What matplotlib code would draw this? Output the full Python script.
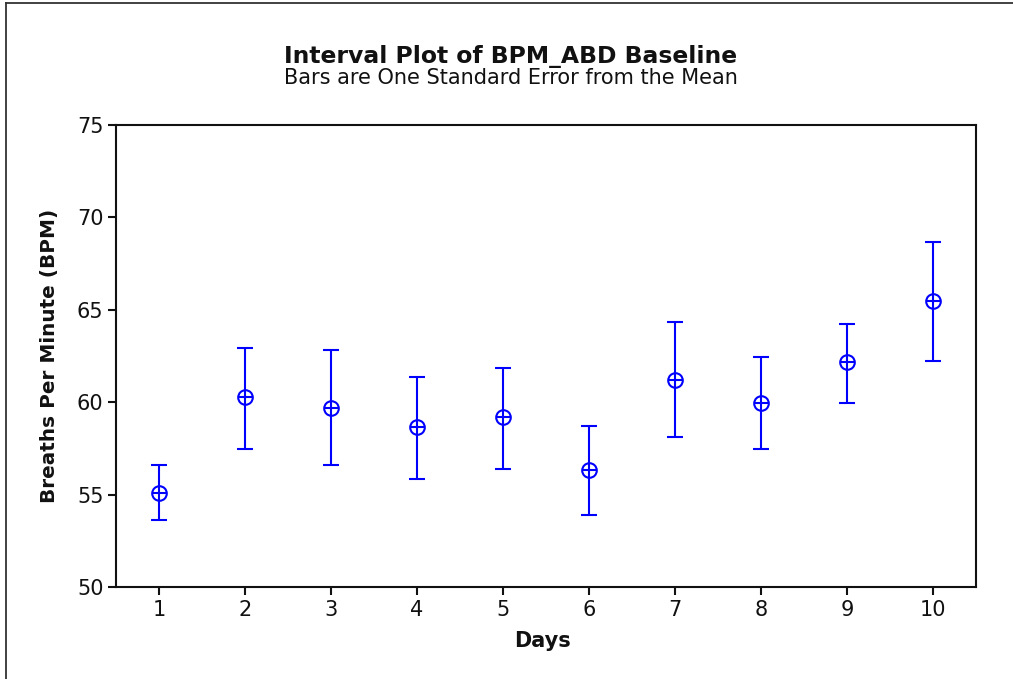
import matplotlib
matplotlib.use("Agg")
import matplotlib.pyplot as plt
import numpy as np
from matplotlib.lines import Line2D

days = [1, 2, 3, 4, 5, 6, 7, 8, 9, 10]
means = [55.10, 60.27, 59.67, 58.65, 59.22, 56.33, 61.21, 59.98, 62.18, 65.45]
upper = [56.59, 62.92, 62.83, 61.39, 61.87, 58.70, 64.36, 62.43, 64.24, 68.66]
lower = [53.63, 57.46, 56.59, 55.83, 56.41, 53.90, 58.12, 57.46, 59.95, 62.25]
yticks = [50, 55, 60, 65, 70, 75]

title = "Interval Plot of BPM_ABD Baseline"
subtitle = "Bars are One Standard Error from the Mean"
xlabel = "Days"
ylabel = "Breaths Per Minute (BPM)"

plt.rcParams['font.family'] = ['DejaVu Sans']

W, H = 1013, 679
fig = plt.figure(figsize=(W / 100, H / 100), dpi=100)
ax = fig.add_axes([116 / W, 1 - 587 / H, (976 - 116) / W, (587 - 125) / H])

m = np.array(means)
yerr = [m - np.array(lower), np.array(upper) - m]
blue = "#0000FF"
ax.errorbar(days, means, yerr=yerr, fmt='none', ecolor=blue, elinewidth=1.5,
            capsize=5.8, capthick=1.5, zorder=2)
ax.plot(days, means, linestyle='none', marker='o', markersize=10.5,
        markerfacecolor='none', markeredgecolor=blue, markeredgewidth=1.5, zorder=3)
ax.plot(days, means, linestyle='none', marker='_', markersize=10.5,
        markeredgecolor=blue, markeredgewidth=1.5, zorder=3)

ax.set_xlim(0.5, 10.5)
ax.set_ylim(50, 75)
ax.set_xticks(days)
ax.set_yticks(yticks)
for s in ax.spines.values():
    s.set_linewidth(1.5)
    s.set_color('#111111')
ax.tick_params(axis='both', direction='out', length=6, width=1.5, labelsize=15,
               colors='#111111', pad=3)
ax.tick_params(axis='x', pad=3)

fig.text(511 / W, 1 - 63 / H, title, ha='center', va='baseline', fontsize=16.9,
         fontweight='bold', color='#111111')
fig.text(511 / W, 1 - 84 / H, subtitle, ha='center', va='baseline', fontsize=15,
         color='#111111')
fig.text(543 / W, 1 - 647 / H, xlabel, ha='center', va='baseline', fontsize=15,
         fontweight='bold', color='#111111')
fig.text(49 / W, 1 - 356 / H, ylabel, ha='center', va='center', rotation=90,
         fontsize=14.4, fontweight='bold', color='#111111')

# outer frame (left and top edges visible)
fig.add_artist(Line2D([6 / W, 6 / W], [0, 1 - 3 / H], transform=fig.transFigure,
                      color='#333333', linewidth=1.3))
fig.add_artist(Line2D([6 / W, 1], [1 - 3 / H, 1 - 3 / H], transform=fig.transFigure,
                      color='#333333', linewidth=1.3))

fig.savefig("out.png", dpi=100, facecolor='white')
